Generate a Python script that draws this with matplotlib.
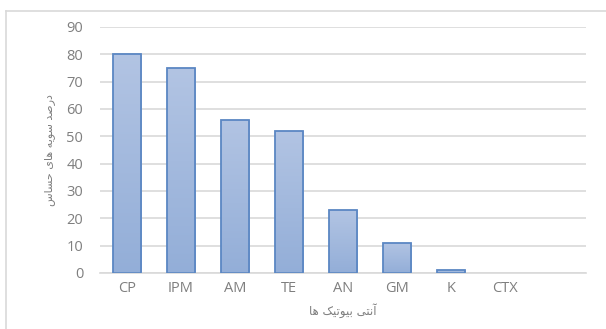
import numpy as np
import matplotlib
matplotlib.use("Agg")
import matplotlib.pyplot as plt
from matplotlib import font_manager
from matplotlib.ft2font import FT2Font
from matplotlib.colors import LinearSegmentedColormap
from matplotlib.lines import Line2D

# Data
categories = ["CP", "IPM", "AM", "TE", "AN", "GM", "K", "CTX"]
values = [80, 75, 56, 52, 23, 11, 1, 0]
y_ticks = [0, 10, 20, 30, 40, 50, 60, 70, 80, 90]

# Arabic-script labels, pre-shaped into presentation forms (visual order)
dejavu_path = font_manager.findfont("DejaVu Sans")
cmap_chars = FT2Font(dejavu_path).get_charmap()


def pick(preferred, fallback):
    return chr(preferred) if preferred in cmap_chars else chr(fallback)


keheh_final = pick(0xFB8F, 0xFEDA)

word_dars = "\uFEAA\uFEBB\uFEAD\uFEA9"          # درصد
word_sooye = "\uFEEA\uFEF3\uFEEE\uFEB3"         # سویه
word_haye = "\uFEEF\uFE8E\uFEEB"                # های
word_hassas = "\uFEB1\uFE8E\uFEB4\uFEA3"        # حساس
y_label = " ".join([word_hassas, word_haye, word_sooye, word_dars])

word_anti = "\uFEF0\uFE98\uFEE7\uFE81"          # آنتی
word_biotik = keheh_final + "\uFEF4\uFE97\uFEEE\uFEF4\uFE91"  # بیوتیک
word_ha = "\uFE8E\uFEEB"                        # ها
x_label = " ".join([word_ha, word_biotik, word_anti])

tick_font = "Open Sans"
text_color = "#7f7f7f"

fig = plt.figure(figsize=(6.06, 3.29), dpi=100)
ax = fig.add_axes([100 / 606, 1 - 273 / 329, 486 / 606, 246 / 329])

x = np.arange(len(categories))
bar_w = 0.52
edge_colors = ["#5b87c3" if v > 0 else "none" for v in values]
bars = ax.bar(x, values, width=bar_w, facecolor="none", edgecolor=edge_colors,
              linewidth=1.3, zorder=3)

grad = LinearSegmentedColormap.from_list("barfill", ["#93aed8", "#b2c4e3"])
gimg = np.linspace(0, 1, 256).reshape(-1, 1)
for rect, v in zip(bars, values):
    if v <= 0:
        continue
    x0 = rect.get_x()
    im = ax.imshow(gimg, cmap=grad, origin="lower", aspect="auto",
                   extent=[x0, x0 + rect.get_width(), 0, v], zorder=2)
    im.set_clip_path(rect)

# one empty category slot is left on the right
ax.set_xlim(-0.5, len(categories) + 0.5)
ax.set_ylim(0, 90)
ax.set_yticks(y_ticks)
ax.set_xticks(x)
ax.set_xticklabels(categories)
ax.yaxis.grid(True, color="#d9d9d9", linewidth=1.2, zorder=0)
ax.set_axisbelow(True)
for s in ["top", "right", "left"]:
    ax.spines[s].set_visible(False)
ax.spines["bottom"].set_color("#d9d9d9")
ax.spines["bottom"].set_linewidth(1.2)
ax.tick_params(axis="both", length=0, colors=text_color, labelsize=10.5)
ax.tick_params(axis="y", pad=12)
ax.tick_params(axis="x", pad=6)
for lab in ax.get_xticklabels() + ax.get_yticklabels():
    lab.set_fontfamily(tick_font)

ax.set_xlabel(x_label, family="DejaVu Sans", fontsize=8.5, color=text_color,
              labelpad=5)
ax.set_ylabel(y_label, family="DejaVu Sans", fontsize=8, color=text_color,
              labelpad=8)

# Chart frame (top and left edges)
fig.add_artist(Line2D([6 / 606, 1.0], [1 - 11 / 329, 1 - 11 / 329],
                      transform=fig.transFigure, color="#d9d9d9", linewidth=1.2))
fig.add_artist(Line2D([6 / 606, 6 / 606], [0.0, 1 - 11 / 329],
                      transform=fig.transFigure, color="#d9d9d9", linewidth=1.2))

fig.savefig("out.png", dpi=100, facecolor="white")
